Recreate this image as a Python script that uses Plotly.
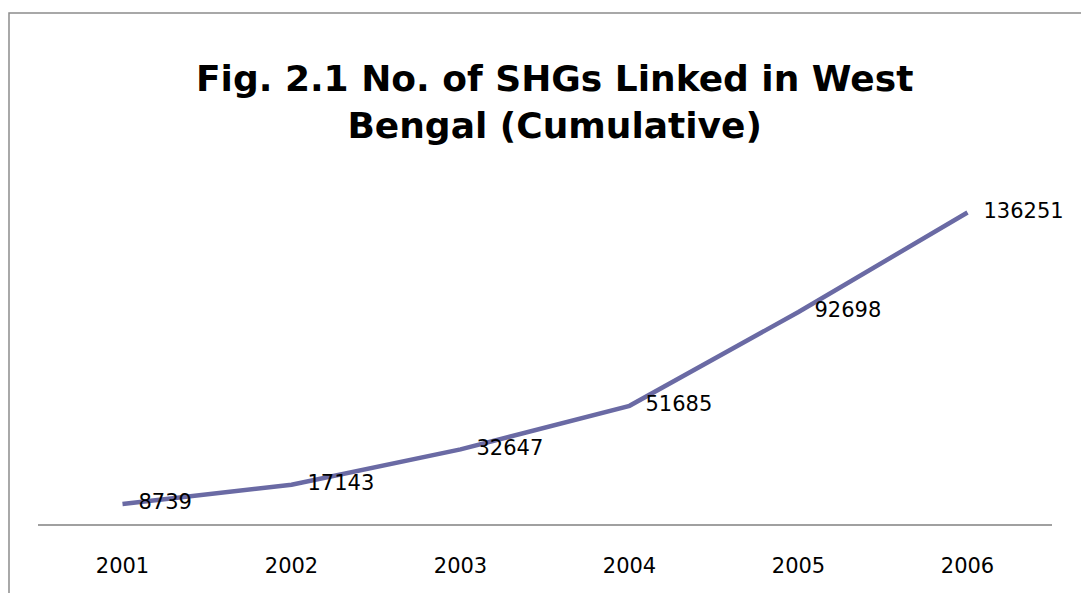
import plotly.graph_objects as go

years = ["2001", "2002", "2003", "2004", "2005", "2006"]
shgs_linked = [8739, 17143, 32647, 51685, 92698, 136251]

LINE_COLOR = "#6a6aa4"
FONT = "DejaVu Sans"

fig = go.Figure()

fig.add_trace(go.Scatter(
    x=years, y=shgs_linked,
    mode="lines+markers+text",
    text=[str(v) for v in shgs_linked],
    textposition="middle right",
    textfont=dict(family=FONT, size=21, color="#000000"),
    line=dict(color=LINE_COLOR, width=4.5),
    marker=dict(size=24, color="rgba(0,0,0,0)"),
    cliponaxis=False,
    showlegend=False,
    hoverinfo="x+y",
))

# chart-area border (runs off the right/bottom of the frame like the source)
fig.add_shape(
    type="rect", xref="paper", yref="paper",
    x0=-0.0286, x1=1.1, y0=-0.3, y1=1.49,
    line=dict(color="#8c8c8c", width=1.5),
    fillcolor="rgba(0,0,0,0)",
    layer="below",
)

fig.update_layout(
    title=dict(
        text="<b>Fig. 2.1 No. of SHGs Linked in West<br>Bengal (Cumulative)</b>",
        font=dict(family=FONT, size=36, color="#000000"),
        x=0.502, xanchor="center",
        y=0.86, yanchor="top",
    ),
    xaxis=dict(
        type="category",
        showline=True, linecolor="#a0a0a0", linewidth=1.5,
        showgrid=False, zeroline=False, ticks="",
        tickfont=dict(family=FONT, size=21, color="#000000"),
        ticklabelstandoff=22,
        range=[-0.5, 5.5],
    ),
    yaxis=dict(
        visible=False, range=[0, 150000],
        showgrid=False, zeroline=False,
    ),
    plot_bgcolor="white",
    paper_bgcolor="white",
    margin=dict(l=30, r=45, t=173, b=77),
    width=1089, height=593,
)

fig.write_html("out.html")
